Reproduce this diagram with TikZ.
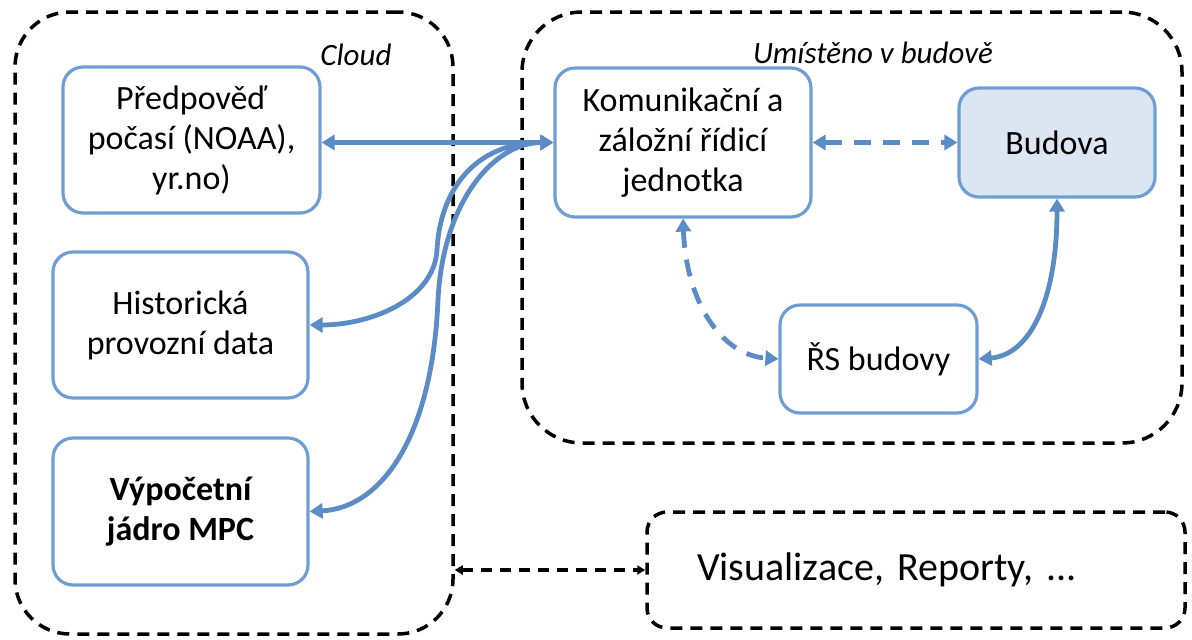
\documentclass[tikz,border=0pt]{standalone}
\usepackage{fontspec}
\setmainfont{Carlito}
\usetikzlibrary{arrows.meta}
\definecolor{boxblue}{HTML}{6E9ED3}
\definecolor{arrblue}{HTML}{5B8CC5}
\definecolor{budfill}{HTML}{DCE6F2}
\begin{document}
\begin{tikzpicture}[x=1pt,y=-1pt,
  bluebox/.style={draw=boxblue,line width=3.2pt,rounded corners=20pt,align=center,
    font=\fontsize{34}{40}\selectfont,inner sep=0pt},
  zone/.style={draw=black,line width=3.5pt,dash pattern=on 12pt off 8pt,rounded corners=55pt,inner sep=0pt},
  barrow/.style={draw=arrblue,line width=4.8pt,
    {Triangle[length=13pt,width=15pt]}-{Triangle[length=13pt,width=15pt]}},
  bdash/.style={barrow,dash pattern=on 17pt off 12pt},
  karrow/.style={draw=black,line width=3.2pt,dash pattern=on 11pt off 8pt,
    {Triangle[length=8pt,width=9pt]}-{Triangle[length=8pt,width=9pt]}},
  zlabel/.style={font=\fontsize{31}{36}\selectfont\itshape}
]
\useasboundingbox (0,0) rectangle (1192,640);
% zones
\node[zone,minimum width=438pt,minimum height=622pt] (cloud) at (234,323) {};
\node[zone,rounded corners=60pt,minimum width=660pt,minimum height=431pt] (bldg) at (852,227.5) {};
\node[zone,rounded corners=20pt,minimum width=538pt,minimum height=116pt,
  text width=438pt,align=left,
  font=\fontsize{40}{46}\selectfont\frenchspacing] (vis) at (916,570) {Visualizace, Reporty, ...};
\node[zlabel] (lcloud) at (356,55) {Cloud};
\node[zlabel] (lbldg) at (873,53) {Umístěno v budově};
% boxes
\node[bluebox,minimum width=257pt,minimum height=146pt] (pred) at (191.5,140) {Předpověď\\počasí (NOAA),\\yr.no)};
\node[bluebox,minimum width=255pt,minimum height=146pt] (hist) at (180.5,325) {Historická\\provozní data};
\node[bluebox,minimum width=255pt,minimum height=147pt] (vyp) at (180.5,511.5) {\bfseries Výpočetní\\\bfseries jádro MPC};
\node[bluebox,minimum width=256pt,minimum height=149pt] (kom) at (683,142.5) {Komunikační a\\záložní řídicí\\jednotka};
\node[bluebox,fill=budfill,minimum width=196pt,minimum height=109pt] (bud) at (1057,142.5) {Budova};
\node[bluebox,minimum width=197pt,minimum height=108pt] (rs) at (878.5,359) {ŘS budovy};
% connectors
\draw[barrow] (pred.east |- kom.west) -- (kom.west);
\draw[barrow] (kom.west) .. controls (475,142.5) and (440,190) .. (437,250)
  .. controls (434,300) and (370,325) .. (hist.east);
\draw[barrow] (kom.west) .. controls (495,142.5) and (443,200) .. (438,300)
  .. controls (432,440) and (380,508) .. (vyp.east);
\draw[bdash] (kom.east) -- (bud.west);
\draw[bdash] (kom.south) .. controls (686,300) and (720,355) .. (rs.west);
\draw[barrow] (bud.south) .. controls (1057,300) and (1030,355) .. (rs.east);
\draw[karrow] (cloud.east |- vis.west) -- (vis.west);
\end{tikzpicture}
\end{document}
